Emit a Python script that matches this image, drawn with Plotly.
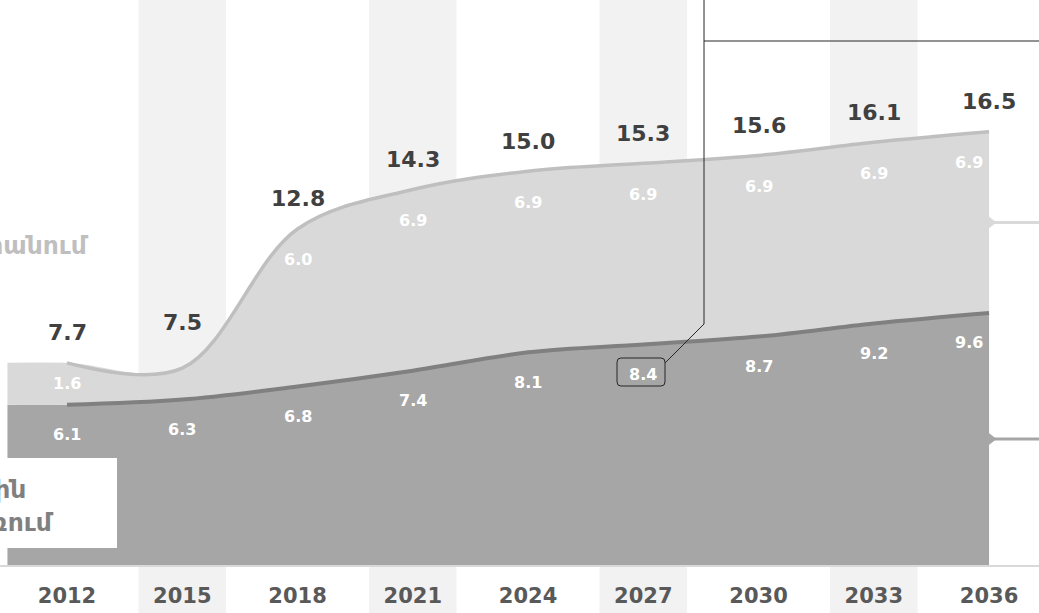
import plotly.graph_objects as go

# Electricity balance, by year
years = [2012, 2015, 2018, 2021, 2024, 2027, 2030, 2033, 2036]
domestic = [6.1, 6.3, 6.8, 7.4, 8.1, 8.4, 8.7, 9.2, 9.6]
export = [1.6, 1.2, 6.0, 6.9, 6.9, 6.9, 6.9, 6.9, 6.9]
export_label_shown = [True, False, True, True, True, True, True, True, True]
shaded_years = [2015, 2021, 2027, 2033]
highlight_year = 2027

series_names = ["Ներքին<br>սպառում", "Արտահանում"]

totals = [round(d + e, 1) for d, e in zip(domestic, export)]

# canvas geometry (pixels)
W, H = 1039, 613
MB = 48
PH = H - MB
Y_MAX = 21.52
PX_PER_UNIT = PH / Y_MAX

FONT = "DejaVu Sans"
C_DARK_FILL = "#a6a6a6"
C_DARK_LINE = "#808080"
C_LIGHT_FILL = "#d9d9d9"
C_LIGHT_LINE = "#bfbfbf"
C_TEXT = "#404040"
C_AXIS = "#595959"
C_CALLOUT = "#262626"


def px(xp):
    return xp / W


def py(yp):
    return (PH - yp) / PH


x_left = years[0] - 1.55  # fill starts a little before the first year
fill_x = [x_left] + years

fig = go.Figure()

fig.add_trace(go.Scatter(
    x=fill_x, y=[domestic[0]] + domestic, mode="lines",
    line=dict(width=0, shape="spline"), fill="tozeroy",
    fillcolor=C_DARK_FILL, hoverinfo="skip", showlegend=False))
fig.add_trace(go.Scatter(
    x=fill_x, y=[totals[0]] + totals, mode="lines",
    line=dict(width=0, shape="spline"), fill="tonexty",
    fillcolor=C_LIGHT_FILL, hoverinfo="skip", showlegend=False))

fig.add_trace(go.Scatter(
    x=years, y=domestic, mode="lines",
    line=dict(width=4, color=C_DARK_LINE, shape="spline"),
    hoverinfo="skip", showlegend=False))
fig.add_trace(go.Scatter(
    x=years, y=totals, mode="lines",
    line=dict(width=3.5, color=C_LIGHT_LINE, shape="spline"),
    hoverinfo="skip", showlegend=False))

# leader stubs pointing to the series names on the right
x_far = years[-1] + 3
mid_dark = domestic[-1] / 2
mid_light = domestic[-1] + export[-1] / 2
for mid, col in [(mid_light, C_LIGHT_FILL), (mid_dark, C_DARK_FILL)]:
    fig.add_trace(go.Scatter(
        x=[years[-1], x_far], y=[mid, mid], mode="lines",
        line=dict(width=3, color=col),
        hoverinfo="skip", showlegend=False))
    fig.add_trace(go.Scatter(
        x=[years[-1]], y=[mid], mode="markers",
        marker=dict(symbol="triangle-right", size=15, color=col,
                    line=dict(width=0)),
        hoverinfo="skip", showlegend=False))

annotations = []
# totals above the stack
for yr, t in zip(years, totals):
    lift = 30 + (16 if yr == 2015 else 0)
    annotations.append(dict(
        x=yr, y=t, xref="x", yref="y", text=f"{t:.1f}", showarrow=False,
        yshift=lift, font=dict(family=FONT, size=22, color=C_TEXT, weight="bold")))


def inner_label(yr, y, val, shift):
    last = yr == years[-1]
    return dict(
        x=yr, y=y, xref="x", yref="y", text=f"{val:.1f}", showarrow=False,
        yshift=-shift, xanchor="right" if last else "center",
        xshift=-4 if last else 0,
        font=dict(family=FONT, size=16, color="#ffffff", weight="bold"))


# export values inside the light band
for yr, e, t, shown in zip(years, export, totals, export_label_shown):
    if shown:
        annotations.append(inner_label(yr, t, e, min(31, e * PX_PER_UNIT / 2)))

# domestic values inside the dark band
for yr, d in zip(years, domestic):
    annotations.append(inner_label(yr, d, d, 30))

# series names on the left
annotations.append(dict(
    x=px(91), y=py(245), xref="paper", yref="paper", xanchor="right", yanchor="middle",
    text=series_names[1], showarrow=False,
    font=dict(family=FONT, size=25, color=C_LIGHT_LINE, weight="bold")))
annotations.append(dict(
    x=px(56), y=py(506), xref="paper", yref="paper", xanchor="right", yanchor="middle",
    text=series_names[0], showarrow=False, align="left",
    font=dict(family=FONT, size=25, color=C_DARK_LINE, weight="bold")))

shapes = []
for yr in shaded_years:
    shapes.append(dict(
        type="rect", xref="x", yref="paper", x0=yr - 1.14, x1=yr + 1.14,
        y0=-0.2, y1=1, fillcolor="#f2f2f2", line=dict(width=0), layer="below"))

# white panel behind the lower-left name
shapes.append(dict(
    type="rect", xref="paper", yref="paper", x0=px(-5), x1=px(117),
    y0=py(548), y1=py(458), fillcolor="#ffffff", line=dict(width=0), layer="above"))

# callout from the highlighted value
bx0, bx1, by0, by1, r = 617, 665, 358, 386, 4
box_path = (
    f"M {px(bx0 + r)},{py(by0)} L {px(bx1 - r)},{py(by0)} "
    f"Q {px(bx1)},{py(by0)} {px(bx1)},{py(by0 + r)} "
    f"L {px(bx1)},{py(by1 - r)} Q {px(bx1)},{py(by1)} {px(bx1 - r)},{py(by1)} "
    f"L {px(bx0 + r)},{py(by1)} Q {px(bx0)},{py(by1)} {px(bx0)},{py(by1 - r)} "
    f"L {px(bx0)},{py(by0 + r)} Q {px(bx0)},{py(by0)} {px(bx0 + r)},{py(by0)} Z"
)
shapes.append(dict(type="path", xref="paper", yref="paper", path=box_path,
                   line=dict(color=C_CALLOUT, width=1), layer="above"))
leader_path = (f"M {px(bx1)},{py(by0 + 5)} L {px(704)},{py(324)} "
               f"L {px(704)},{py(-5)}")
shapes.append(dict(type="path", xref="paper", yref="paper", path=leader_path,
                   line=dict(color=C_CALLOUT, width=1), layer="above"))
shapes.append(dict(type="line", xref="paper", yref="paper",
                   x0=px(704), x1=px(1045), y0=py(41), y1=py(41),
                   line=dict(color=C_CALLOUT, width=1), layer="above"))

fig.update_layout(
    width=W, height=H,
    margin=dict(l=0, r=0, t=0, b=MB),
    paper_bgcolor="#ffffff", plot_bgcolor="rgba(0,0,0,0)",
    showlegend=False,
    annotations=annotations, shapes=shapes,
    xaxis=dict(
        range=[years[0] - 1.744, years[0] + 25.3],
        tickvals=years, ticktext=[str(y) for y in years],
        tickfont=dict(family=FONT, size=21, color=C_AXIS, weight="bold"),
        showgrid=False, zeroline=False, ticks="",
        showline=True, linecolor=C_LIGHT_FILL, linewidth=2,
        ticklabelstandoff=11, fixedrange=True),
    yaxis=dict(range=[0, Y_MAX], visible=False, showgrid=False,
               zeroline=False, fixedrange=True),
)

fig.write_html("out.html")
